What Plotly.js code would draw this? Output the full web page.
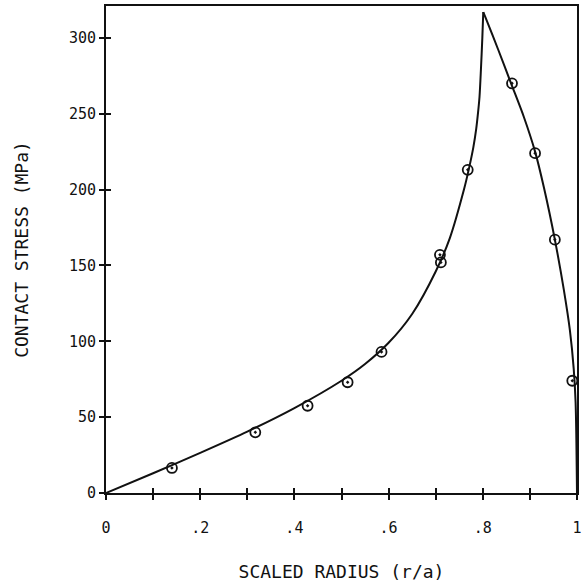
<!DOCTYPE html>
<html>
<head>
<meta charset="utf-8">
<script src="https://cdn.plot.ly/plotly-3.0.1.min.js"></script>
<style>html,body{margin:0;padding:0;background:#fff;}#chart{width:584px;height:587px;}</style>
</head>
<body>
<div id="chart"></div>
<script>
// Fitted curve, rising branch (scaled radius r/a vs contact stress, MPa)
const riseRadius = [0, 0.10, 0.20, 0.30, 0.40, 0.50, 0.55, 0.60, 0.65, 0.70, 0.73, 0.76, 0.77, 0.78, 0.786, 0.79, 0.793, 0.796, 0.799, 0.801];
const riseStress = [0, 13, 26.5, 40.5, 56, 74, 85, 99, 118, 146, 168, 200, 213, 228, 240, 251, 261, 279, 300, 317];
// Fitted curve, falling branch
const fallRadius = [0.801, 0.805, 0.833, 0.860, 0.887, 0.911, 0.930, 0.953, 0.972, 0.985, 0.993, 0.997, 1.0];
const fallStress = [317, 314, 292, 270, 248, 225, 201, 167, 134, 107, 82, 60, 0];

// Measured points
const pointRadius = [0.140, 0.317, 0.428, 0.513, 0.585, 0.709, 0.711, 0.768, 0.862, 0.911, 0.953, 0.990];
const pointStress = [16.5, 40, 57.5, 73, 93, 157, 152, 213, 270, 224, 167, 74];

// Tick labels
const xTickVals = [0, 0.1, 0.2, 0.3, 0.4, 0.5, 0.6, 0.7, 0.8, 0.9, 1.0];
const xTickText = ['0', '', '.2', '', '.4', '', '.6', '', '.8', '', '1'];
const yTickVals = [0, 50, 100, 150, 200, 250, 300];
const yTickText = ['0', '50', '100', '150', '200', '250', '300'];

const FONT = 'DejaVu Sans Mono, Liberation Mono, monospace';
const INK = '#111111';

const traces = [
  {
    x: riseRadius, y: riseStress,
    type: 'scatter', mode: 'lines',
    line: {color: INK, width: 2, shape: 'spline', smoothing: 0.8},
    hoverinfo: 'skip', showlegend: false
  },
  {
    x: fallRadius, y: fallStress,
    type: 'scatter', mode: 'lines',
    line: {color: INK, width: 2, shape: 'spline', smoothing: 0.8},
    hoverinfo: 'skip', showlegend: false
  },
  {
    x: pointRadius, y: pointStress,
    type: 'scatter', mode: 'markers',
    marker: {symbol: 'circle-open-dot', size: 10, color: INK, line: {width: 1.8, color: INK}},
    showlegend: false
  },
  // empty trace so the overlay axes (inner tick halves) are drawn
  {x: [], y: [], xaxis: 'x2', yaxis: 'y2', type: 'scatter', mode: 'markers', showlegend: false, hoverinfo: 'skip'}
];

const layout = {
  width: 584, height: 587,
  margin: {l: 106, r: 7, t: 6, b: 94},
  paper_bgcolor: '#ffffff', plot_bgcolor: '#ffffff',
  font: {family: FONT, color: INK, size: 15},
  showlegend: false,
  xaxis: {
    range: [0, 1], fixedrange: true,
    showgrid: false, zeroline: false,
    showline: true, linecolor: INK, linewidth: 2, mirror: true,
    ticks: 'outside', ticklen: 5, tickwidth: 2, tickcolor: INK,
    tickmode: 'array', tickvals: xTickVals, ticktext: xTickText,
    ticklabelstandoff: 15,
    tickfont: {family: FONT, size: 15, color: INK},
    title: {text: 'SCALED RADIUS (r/a)', font: {family: FONT, size: 18, color: INK}, standoff: 29},
    automargin: false
  },
  yaxis: {
    range: [0, 321], fixedrange: true,
    showgrid: false, zeroline: false,
    showline: true, linecolor: INK, linewidth: 2, mirror: true,
    ticks: 'outside', ticklen: 5, tickwidth: 2, tickcolor: INK,
    tickmode: 'array', tickvals: yTickVals, ticktext: yTickText,
    tickfont: {family: FONT, size: 15, color: INK},
    title: {text: 'CONTACT STRESS (MPa)', font: {family: FONT, size: 18, color: INK}, standoff: 36},
    automargin: false
  },
  xaxis2: {
    overlaying: 'x', anchor: 'y2', range: [0, 1], fixedrange: true,
    showgrid: false, zeroline: false, showline: false,
    ticks: 'inside', ticklen: 5, tickwidth: 2, tickcolor: INK,
    tickmode: 'array', tickvals: xTickVals, showticklabels: false
  },
  yaxis2: {
    overlaying: 'y', anchor: 'x2', range: [0, 321], fixedrange: true,
    showgrid: false, zeroline: false, showline: false,
    ticks: 'inside', ticklen: 5, tickwidth: 2, tickcolor: INK,
    tickmode: 'array', tickvals: yTickVals, showticklabels: false
  }
};

Plotly.newPlot('chart', traces, layout, {displayModeBar: false, staticPlot: true});
</script>
</body>
</html>
